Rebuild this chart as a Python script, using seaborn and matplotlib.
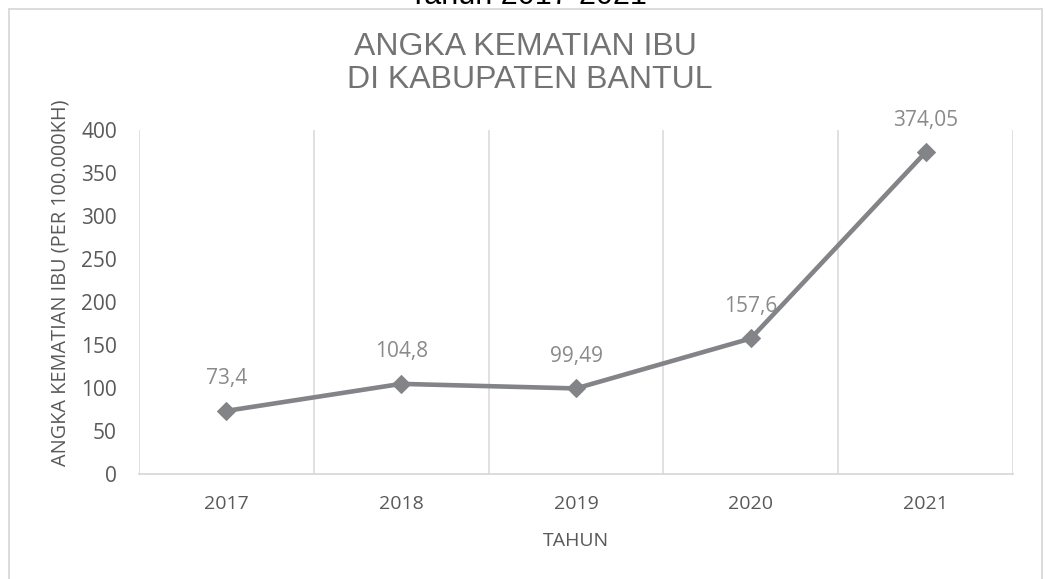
import matplotlib
matplotlib.use("Agg")
import matplotlib.pyplot as plt
import seaborn as sns
import pandas as pd
from matplotlib.patches import Rectangle
from matplotlib.ticker import FixedLocator, MultipleLocator

years = ["2017", "2018", "2019", "2020", "2021"]
values = [73.4, 104.8, 99.49, 157.6, 374.05]
value_labels = ["73,4", "104,8", "99,49", "157,6", "374,05"]

sns.set_theme(style="white")
plt.rcParams["font.family"] = ["Open Sans", "DejaVu Sans"]

W, H = 1046, 579
fig = plt.figure(figsize=(W / 100, H / 100), dpi=100)
ax = fig.add_axes([139 / W, 1 - 474 / H, (1013 - 139) / W, (474 - 130) / H])

df = pd.DataFrame({"Tahun": years, "AKI": values})
line_col = "#838487"
sns.lineplot(data=df, x="Tahun", y="AKI", ax=ax, color=line_col, linewidth=3.3,
             marker="D", markersize=9, markeredgecolor=line_col, markerfacecolor=line_col,
             sort=False)

ax.set_xlim(-0.5, len(years) - 0.5)
ax.set_ylim(0, 400)
ax.yaxis.set_major_locator(MultipleLocator(50))
ax.set_xticks(range(len(years)))
ax.set_xticklabels(years)
ax.xaxis.set_minor_locator(FixedLocator([i + 0.5 for i in range(-1, len(years))]))
ax.grid(False)
ax.grid(True, axis="x", which="minor", color="#d9d9d9", linewidth=1.1)
ax.tick_params(axis="both", which="both", length=0)
ax.tick_params(axis="y", labelsize=15, labelcolor="#595959", pad=16)
ax.tick_params(axis="x", labelsize=14, labelcolor="#595959", pad=15)

for s in ["top", "right", "left"]:
    ax.spines[s].set_visible(False)
ax.spines["bottom"].set_color("#d9d9d9")
ax.spines["bottom"].set_linewidth(1.3)

ax.set_xlabel("TAHUN", fontsize=14, color="#595959", labelpad=14)
ax.set_ylabel("ANGKA KEMATIAN IBU (PER 100.000KH)", fontsize=14.3, color="#595959")
ax.yaxis.set_label_coords(-(139 - 71) / (1013 - 139), (474 - 283) / (474 - 130))

for i, (v, t) in enumerate(zip(values, value_labels)):
    ax.annotate(t, (i, v), xytext=(0, 23), textcoords="offset points",
                ha="center", va="center", fontsize=15, color="#8a8a8a")

# chart border
fig.patches.append(Rectangle((9 / W, -0.05), (1042 - 9) / W, 1.05 - 9 / H,
                             transform=fig.transFigure, fill=False,
                             edgecolor="#d9d9d9", linewidth=1.3))

fig.text(525 / W, 1 - 47 / H, "ANGKA KEMATIAN IBU", ha="center", va="center",
         fontsize=23, color="#737373", family=["Liberation Sans", "DejaVu Sans"])
fig.text(530 / W, 1 - 80 / H, "DI KABUPATEN BANTUL", ha="center", va="center",
         fontsize=23, color="#737373", family=["Liberation Sans", "DejaVu Sans"])

fig.text(528 / W, 1 - 4.5 / H, "Tahun 2017-2021", ha="center", va="baseline",
         fontsize=22, color="#000000", family=["Liberation Sans", "DejaVu Sans"])

fig.savefig("out.png", dpi=100)
